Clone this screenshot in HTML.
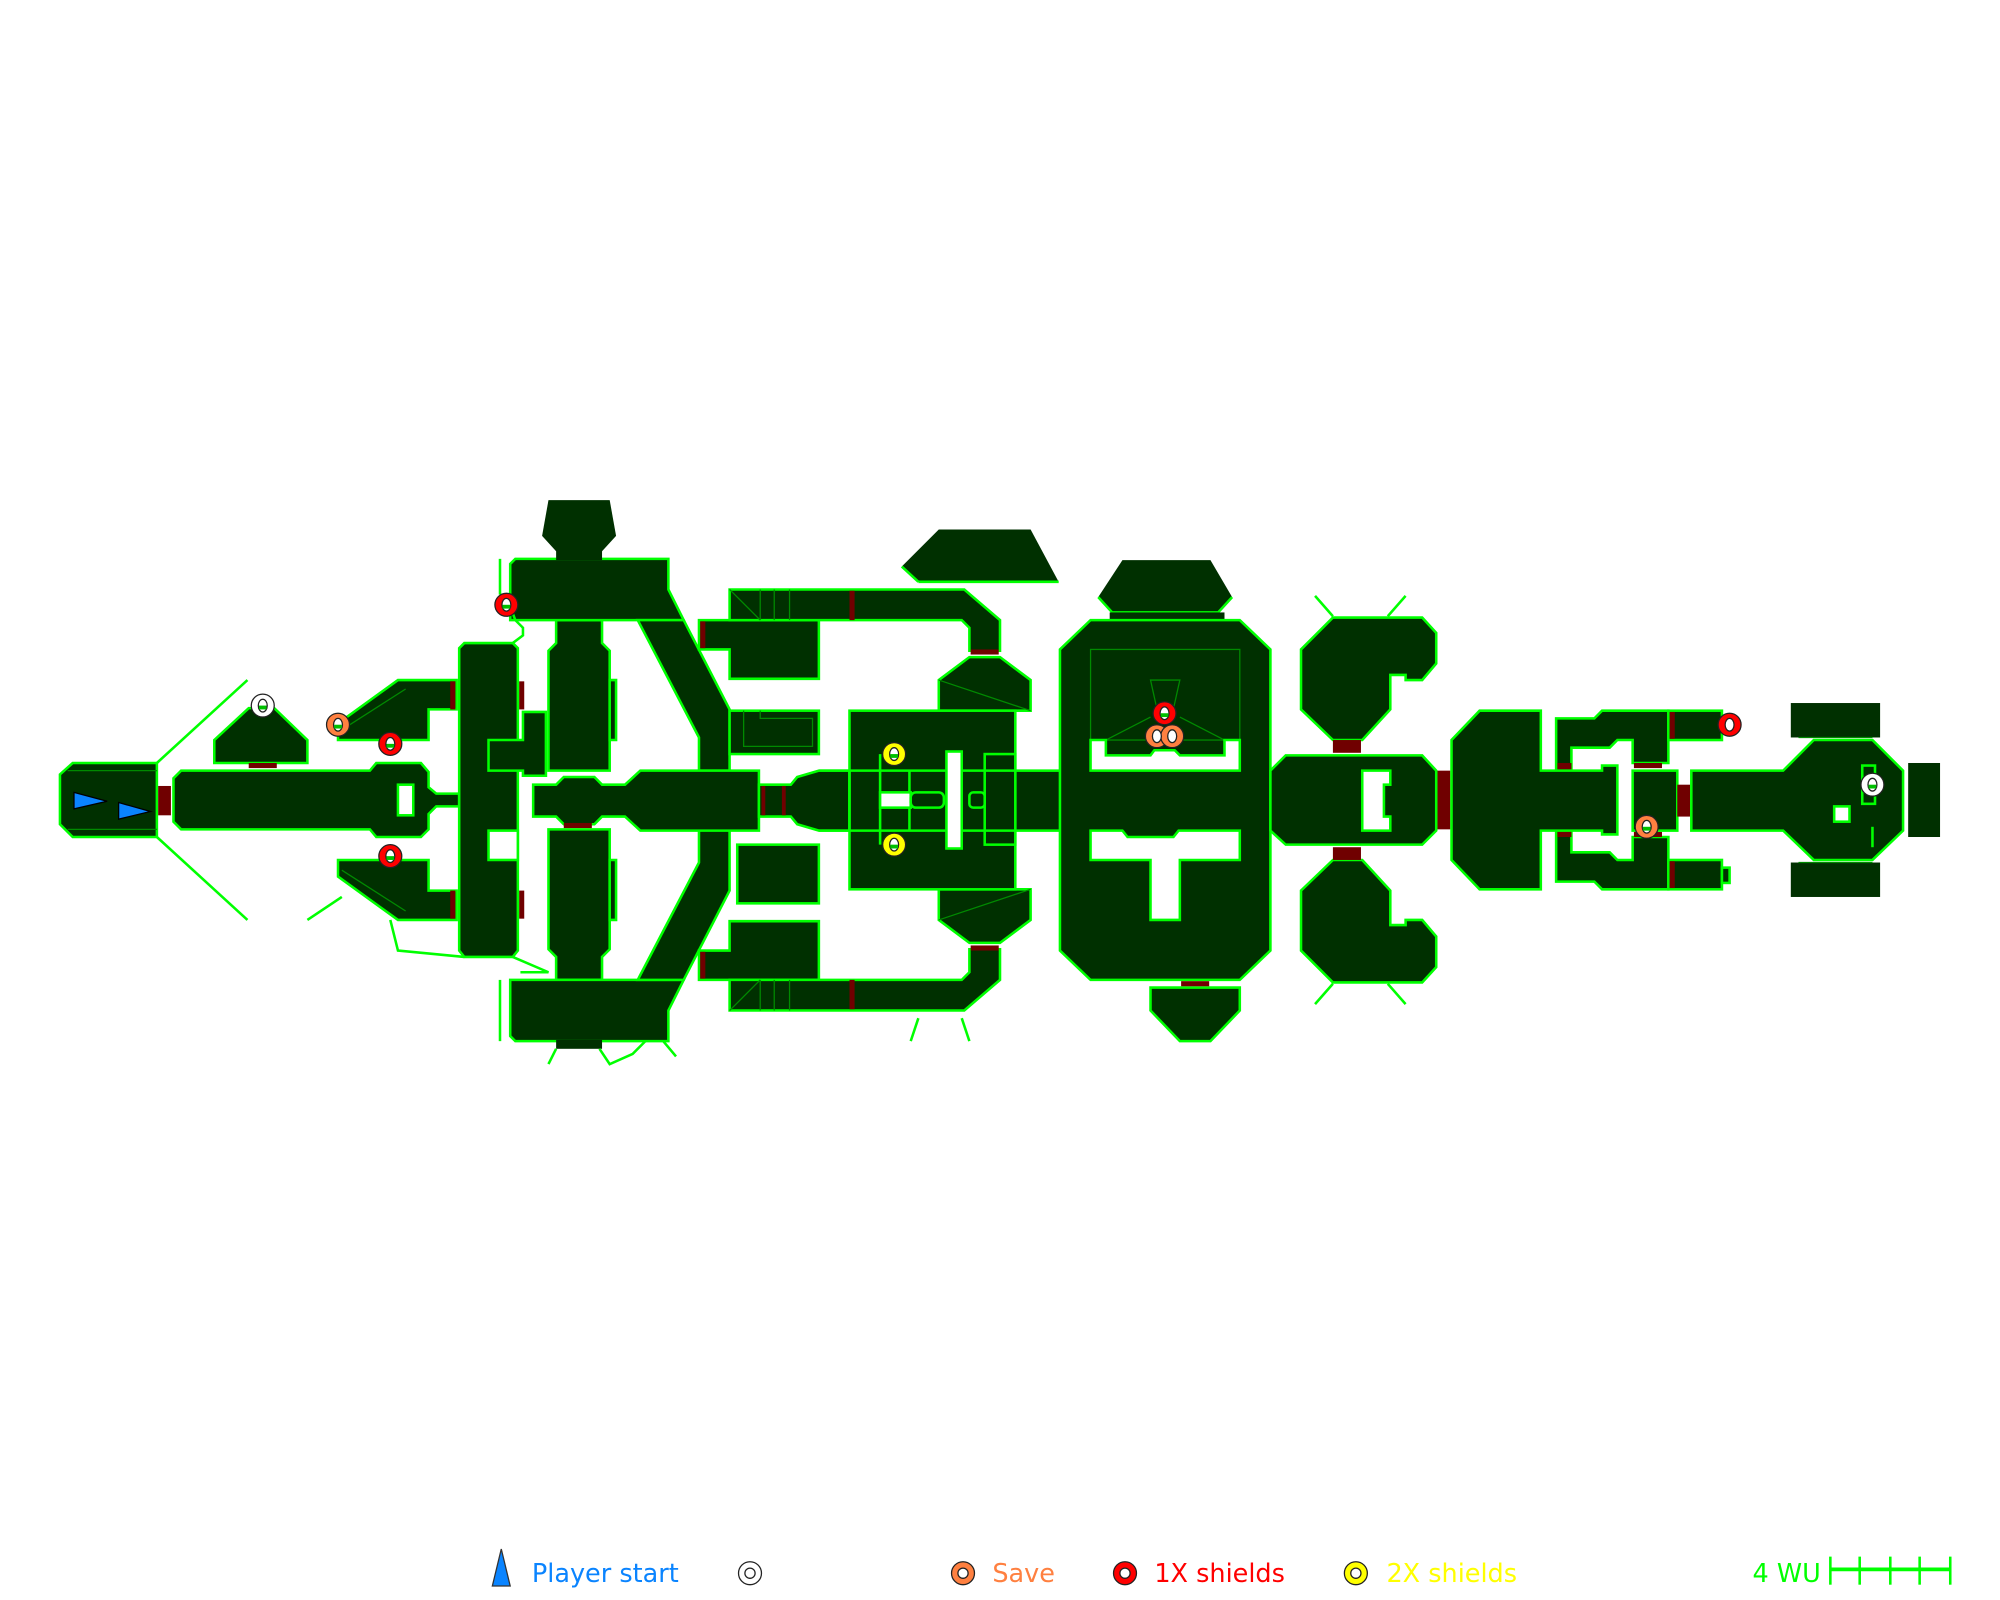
<!DOCTYPE html>
<html><head><meta charset="utf-8"><style>
html,body{margin:0;padding:0;background:#fff;}
svg{display:block;}
.r{fill:#003000;stroke:#00ff00;stroke-width:2;stroke-linejoin:miter;}
.n{fill:#003000;stroke:none;}
.l{fill:none;stroke:#00ff00;stroke-width:2;}
.t{fill:none;stroke:#008a00;stroke-width:1;}
.w{fill:#fff;stroke:#00ff00;stroke-width:2;}
.d{fill:#700000;stroke:none;}
text{font-family:"DejaVu Sans","Liberation Sans",sans-serif;font-size:20px;}
</style></head><body>
<svg width="2000" height="1600" viewBox="0 0 1568 1254" preserveAspectRatio="none" xmlns="http://www.w3.org/2000/svg">
<defs>
<g id="half">
  <line class="l" x1="123" y1="598" x2="194" y2="533"/>
  <polygon class="r" points="265,567 312,533 358,533 358,556 336,556 336,580 265,580"/>
  <line class="t" x1="268" y1="572" x2="318" y2="540"/>
  <rect class="d" x="353" y="534" width="4" height="22"/>
  <rect class="d" x="407" y="534" width="4" height="22"/>
  <polygon class="r" points="436,486 472,486 472,504 478,510 478,604 430,604 430,510 436,504"/>
  <polygon class="r" points="478,533 483,533 483,580 478,580"/>
  <polygon class="r" points="404,438 524,438 524,462 536,486 400,486 400,442"/>
  <polygon class="r" points="500,486 536,486 572,556 572,604 548,604 548,578"/>
  <polygon class="r" points="548,486 642,486 642,532 572,532 572,509 548,509"/>
  <rect class="d" x="549" y="487" width="4" height="21"/>
  <polygon class="r" points="572,462 756,462 784,486 784,510 760,510 760,492 754,486 572,486"/>
  <line class="t" x1="572" y1="462" x2="596" y2="486"/>
  <line class="t" x1="596" y1="462" x2="596" y2="486"/>
  <line class="t" x1="607" y1="462" x2="607" y2="486"/>
  <line class="t" x1="619" y1="462" x2="619" y2="486"/>
  <rect class="d" x="666" y="463" width="4" height="23"/>
  <rect class="d" x="761" y="509" width="22" height="4"/>
  <polygon class="r" points="736,533 760,515 784,515 808,533 808,557 736,557"/>
  <line class="t" x1="736" y1="533" x2="808" y2="557"/>
  <polygon class="r" points="1020,509 1045,484 1115,484 1126,496 1126,520 1115,533 1102,533 1102,529 1090,529 1090,556 1068,580 1045,580 1020,556"/>
  <rect class="d" x="1045" y="580" width="22" height="10"/>
  <line class="l" x1="1031" y1="467" x2="1045" y2="483"/>
  <line class="l" x1="1102" y1="467" x2="1088" y2="483"/>
  <polygon class="r" points="1220,563 1250,563 1256,557 1308,557 1308,598 1280,598 1280,580 1268,580 1262,586 1232,586 1232,604 1220,604"/>
  <rect class="r" x="1308" y="557" width="42" height="23"/>
  <rect class="d" x="1309" y="558" width="4" height="21"/>
  <rect class="d" x="1221" y="598" width="11" height="5"/>
  <rect class="d" x="1281" y="598" width="22" height="4"/>
  <rect class="n" x="1404" y="551" width="70" height="27"/>
  <line class="t" x1="1410" y1="578" x2="1468" y2="578"/>
</g>
</defs>

<use href="#half"/>
<use href="#half" transform="matrix(1,0,0,-1,0,1254)"/>

<!-- asymmetric upper parts -->
<polygon class="r" points="168,580 195,555 215,555 241,580 241,598 168,598"/>
<rect class="d" x="195" y="598" width="22" height="4"/>
<polygon class="n" points="430,392 478,392 483,420 472,432 436,432 425,420"/>
<rect class="n" x="436" y="431" width="36" height="8"/>
<line class="l" x1="392" y1="438" x2="392" y2="466"/>
<polygon class="n" points="707,444 736,415 808,415 830,456 720,456"/>
<line class="l" x1="707" y1="444" x2="720" y2="456"/><line class="l" x1="720" y1="456" x2="830" y2="456"/>
<rect class="r" x="572" y="557" width="70" height="34"/>
<polyline class="t" points="583,557 583,585 637,585 637,563 596,563 596,557"/>
<rect class="r" x="578" y="662" width="64" height="46"/>
<polygon class="n" points="880,439 949,439 966,468 955,480 872,480 861,468"/>
<polyline class="l" points="861,468 872,480 955,480 966,468"/>
<rect class="n" x="870" y="480" width="90" height="7"/>

<!-- left pod -->
<polygon class="r" points="47,607 57,598 123,598 123,656 57,656 47,646"/>
<line class="t" x1="53" y1="604" x2="123" y2="604"/>
<line class="t" x1="53" y1="650" x2="123" y2="650"/>
<polygon points="58,621 84,628 58,634" fill="#0a84ff" stroke="#000" stroke-width="1"/>
<polygon points="93,629 118,636 93,642" fill="#0a84ff" stroke="#000" stroke-width="1"/>
<rect class="d" x="124" y="616" width="10" height="23"/>
<polygon class="r" points="142,604 290,604 295,598 330,598 336,605 336,617 342,622 360,622 360,632 342,632 336,638 336,650 330,656 295,656 290,650 142,650 136,644 136,610"/>
<rect class="w" x="312" y="615" width="12" height="24"/>
<polygon class="r" points="364,504 402,504 406,508 406,745 402,750 364,750 360,745 360,508"/>
<rect class="w" x="383" y="651" width="23" height="23"/>
<polygon class="r" points="383,580 410,580 410,558 428,558 428,608 410,608 410,604 383,604"/>
<polygon class="r" points="418,615 436,615 442,609 466,609 472,615 490,615 502,604 595,604 595,651 502,651 490,640 472,640 466,646 442,646 436,640 418,640"/>
<rect class="d" x="442" y="645" width="22" height="4"/>
<polygon class="r" points="595,615 620,615 625,609 642,604 666,604 666,651 642,651 625,646 620,640 595,640"/>
<rect class="d" x="597" y="616" width="3" height="23"/>
<rect class="d" x="613" y="616" width="3" height="23"/>
<!-- central block -->
<rect class="r" x="666" y="557" width="130" height="140"/>
<rect class="r" x="796" y="604" width="36" height="47"/>
<rect class="r" x="772" y="591" width="24" height="71"/>
<g class="l">
<line x1="690" y1="591" x2="690" y2="662"/><line x1="713" y1="604" x2="713" y2="651"/>
<line x1="642" y1="604" x2="796" y2="604"/><line x1="642" y1="651" x2="796" y2="651"/>
<line x1="666" y1="604" x2="666" y2="651"/>
</g>
<rect class="w" x="742" y="589" width="12" height="76"/>
<rect class="w" x="690" y="621" width="24" height="12"/>
<rect class="r" x="714" y="621" width="26" height="12" rx="4"/>
<rect class="r" x="760" y="621" width="12" height="12" rx="3"/>
<!-- big room -->
<polygon class="r" points="855,486 972,486 996,509 996,745 972,768 855,768 831,745 831,509"/>
<rect class="t" x="855" y="509" width="117" height="71"/>
<polygon class="t" points="902,533 925,533 919,560 908,560"/>
<line class="t" x1="867" y1="580" x2="902" y2="562"/><line class="t" x1="960" y1="580" x2="925" y2="562"/>
<polygon class="w" points="855,580 867,580 867,592 902,592 905,588 921,588 925,592 960,592 960,580 972,580 972,604 855,604"/>
<polygon class="w" points="855,651 880,651 884,656 920,656 924,651 972,651 972,674 925,674 925,721 902,721 902,674 855,674"/>
<polygon class="r" points="902,774 972,774 972,792 949,816 925,816 902,792"/>
<rect class="d" x="926" y="769" width="22" height="4"/>
<polygon class="r" points="996,604 1008,592 1115,592 1126,604 1126,651 1115,662 1008,662 996,651"/>
<polygon class="w" points="1068,604 1090,604 1090,615 1085,615 1085,640 1090,640 1090,651 1068,651"/>
<rect class="d" x="1127" y="604" width="10" height="46"/>
<polygon class="r" points="1138,580 1160,557 1208,557 1208,604 1256,604 1256,600 1268,600 1268,654 1256,654 1256,651 1208,651 1208,697 1160,697 1138,674"/>
<rect class="r" x="1280" y="604" width="35" height="47"/>
<rect class="d" x="1315" y="615" width="10" height="25"/>
<rect class="r" x="1350" y="680" width="6" height="12"/>
<!-- far right -->
<polygon class="r" points="1326,604 1398,604 1422,580 1468,580 1492,604 1492,651 1468,674 1422,674 1398,651 1326,651"/>
<rect class="n" x="1496" y="598" width="25" height="58"/>
<rect class="w" x="1438" y="632" width="12" height="12"/>
<rect class="l" x="1460" y="600" width="10" height="30"/>
<line class="l" x1="1468" y1="648" x2="1468" y2="664"/>
<!-- misc lines -->
<polyline class="l" points="241,721 268,703"/>
<polyline class="l" points="306,721 312,745 364,750"/>
<polyline class="l" points="402,750 430,762 408,762"/>
<polyline class="l" points="398,470 404,486 410,492 410,498 402,504"/>
<line class="l" x1="392" y1="768" x2="392" y2="816"/>
<rect class="n" x="436" y="815" width="36" height="7"/>
<polyline class="l" points="430,834 436,822"/><polyline class="l" points="470,822 478,834 496,826 506,816"/>
<polyline class="l" points="520,816 530,828"/>
<line class="l" x1="714" y1="816" x2="720" y2="798"/><line class="l" x1="760" y1="816" x2="754" y2="798"/>

<!-- markers -->
<g stroke="#222" stroke-width="1">
<circle cx="206" cy="553" r="9" fill="#fff"/><circle cx="265" cy="568" r="9" fill="#ff8040"/>
<circle cx="306" cy="583" r="9" fill="#f00"/><circle cx="306" cy="671" r="9" fill="#f00"/>
<circle cx="397" cy="474" r="9" fill="#f00"/>
<circle cx="701" cy="591" r="9" fill="#ff0"/><circle cx="701" cy="662" r="9" fill="#ff0"/>
<circle cx="907" cy="577" r="9" fill="#ff8040"/><circle cx="919" cy="577" r="9" fill="#ff8040"/>
<circle cx="913" cy="559" r="9" fill="#f00"/>
<circle cx="1356" cy="568" r="9" fill="#f00"/><circle cx="1291" cy="648" r="9" fill="#ff8040"/>
<circle cx="1468" cy="615" r="9" fill="#fff"/>
</g>
<g fill="#fff" stroke="#222" stroke-width="1">
<ellipse cx="206" cy="553" rx="3.5" ry="5"/><ellipse cx="265" cy="568" rx="3.5" ry="5"/><ellipse cx="306" cy="583" rx="3.5" ry="5"/><ellipse cx="306" cy="671" rx="3.5" ry="5"/>
<ellipse cx="397" cy="474" rx="3.5" ry="5"/><ellipse cx="701" cy="591" rx="3.5" ry="5"/><ellipse cx="701" cy="662" rx="3.5" ry="5"/>
<ellipse cx="907" cy="577" rx="3.5" ry="5"/><ellipse cx="919" cy="577" rx="3.5" ry="5"/><ellipse cx="913" cy="559" rx="3.5" ry="5"/>
<ellipse cx="1356" cy="568" rx="3.5" ry="5"/><ellipse cx="1291" cy="648" rx="3.5" ry="5"/><ellipse cx="1468" cy="615" rx="3.5" ry="5"/>
</g>
<g fill="#00c000">
<rect x="203" y="553" width="6" height="3"/><rect x="262" y="568" width="6" height="3"/><rect x="303" y="583" width="6" height="3"/><rect x="303" y="671" width="6" height="3"/>
<rect x="394" y="474" width="6" height="3"/><rect x="698" y="591" width="6" height="3"/><rect x="698" y="662" width="6" height="3"/>
<rect x="910" y="559" width="6" height="3"/><rect x="1465" y="615" width="6" height="3"/><rect x="1288" y="648" width="6" height="3"/>
</g>

<!-- legend -->
<polygon points="393,1214 400,1243 386,1243" fill="#0a84ff" stroke="#333" stroke-width="1"/>
<text x="417" y="1240" fill="#0a84ff">Player start</text>
<circle cx="588" cy="1233" r="9" fill="#fff" stroke="#222"/><circle cx="588" cy="1233" r="4" fill="#fff" stroke="#222"/>
<circle cx="755" cy="1233" r="9" fill="#ff8040" stroke="#222"/><circle cx="755" cy="1233" r="4" fill="#fff" stroke="#222"/>
<text x="778" y="1240" fill="#ff8040">Save</text>
<circle cx="882" cy="1233" r="9" fill="#f00" stroke="#222"/><circle cx="882" cy="1233" r="4" fill="#fff" stroke="#222"/>
<text x="905" y="1240" fill="#f00">1X shields</text>
<circle cx="1063" cy="1233" r="9" fill="#ff0" stroke="#222"/><circle cx="1063" cy="1233" r="4" fill="#fff" stroke="#222"/>
<text x="1087" y="1240" fill="#ff0">2X shields</text>
<text x="1374" y="1240" fill="#00ff00">4 WU</text>
<g stroke="#00ff00" stroke-width="2">
<line x1="1435" y1="1230" x2="1529" y2="1230" stroke-width="3"/>
<line x1="1435" y1="1220" x2="1435" y2="1242"/><line x1="1458" y1="1220" x2="1458" y2="1242"/>
<line x1="1482" y1="1220" x2="1482" y2="1242"/><line x1="1505" y1="1220" x2="1505" y2="1242"/>
<line x1="1529" y1="1220" x2="1529" y2="1242"/>
</g>
</svg>
</body></html>
